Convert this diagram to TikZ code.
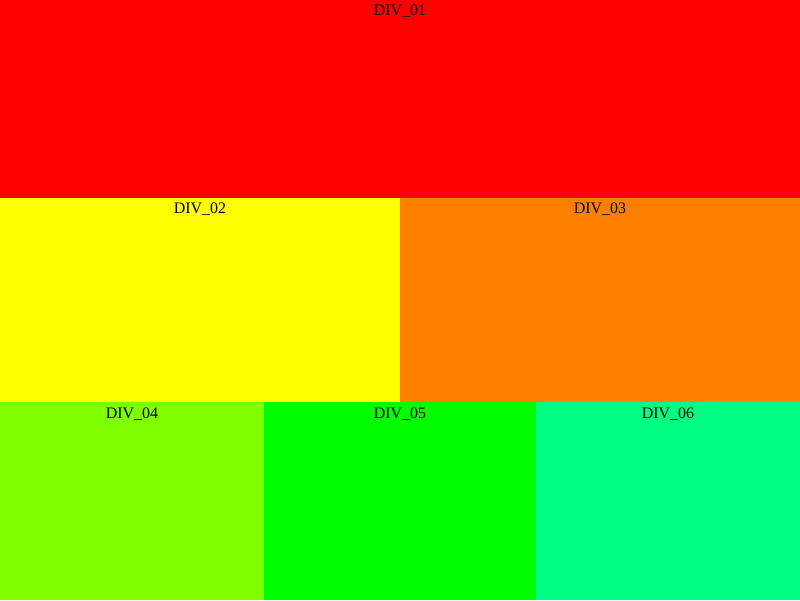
\documentclass[tikz,border=0pt]{standalone}
\usepackage{fontspec}
\setmainfont{Liberation Serif}
\definecolor{cdiva}{RGB}{255,0,0}
\definecolor{cdivb}{RGB}{255,255,0}
\definecolor{cdivc}{RGB}{255,128,0}
\definecolor{cdivd}{RGB}{128,255,0}
\definecolor{cdive}{RGB}{0,255,0}
\definecolor{cdivf}{RGB}{0,255,128}
\tikzset{divpage/.style={x=1pt,y=1pt,font=\fontsize{16}{19}\selectfont}}
\tikzset{divlabel/.style={anchor=base,inner sep=0pt,text=black}}

\begin{document}
\begin{tikzpicture}[divpage]
    \useasboundingbox (0,0) rectangle (800,600);
    \fill[cdiva] (0,402) rectangle (800,600);
    \fill[cdivb] (0,198) rectangle (400,402);
    \fill[cdivc] (400,198) rectangle (800,402);
    \fill[cdivd] (0,0) rectangle (264,198);
    \fill[cdive] (264,0) rectangle (536,198);
    \fill[cdivf] (536,0) rectangle (800,198);
    \node[divlabel] (div01) at (400,584) {DIV\_01};
    \node[divlabel] (div02) at (200,386) {DIV\_02};
    \node[divlabel] (div03) at (600,386) {DIV\_03};
    \node[divlabel] (div04) at (132,182) {DIV\_04};
    \node[divlabel] (div05) at (400,182) {DIV\_05};
    \node[divlabel] (div06) at (668,182) {DIV\_06};
\end{tikzpicture}
\end{document}
